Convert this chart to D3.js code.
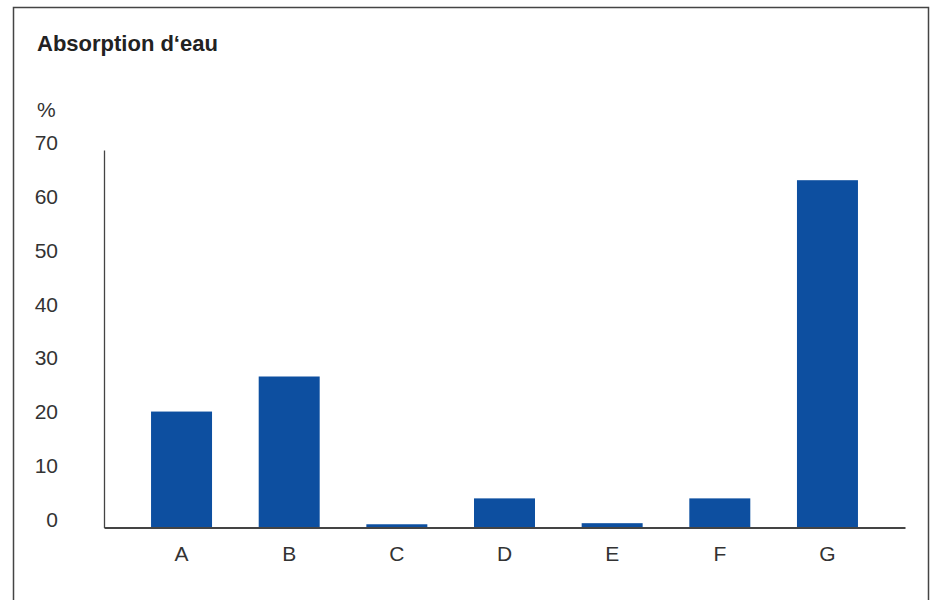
<!DOCTYPE html>
<html><head><meta charset="utf-8">
<script src="https://cdn.jsdelivr.net/npm/d3@7"></script>
<style>html,body{margin:0;padding:0;background:#fff;}</style>
</head><body>
<script>
const categories = ["A","B","C","D","E","F","G"];
const values = [21.5, 28.0, 0.6, 5.4, 0.8, 5.4, 64.4];
const yTicks = [0,10,20,30,40,50,60,70];
const title = "Absorption d‘eau";
const unit = "%";

const W = 933, H = 600;
const font = "'Liberation Sans Narrow', 'Arial Narrow', sans-serif";
const svg = d3.select("body").append("svg").attr("width", W).attr("height", H);

// frame
svg.append("path").attr("d", "M13.5,620 V7.5 H928.5 V620")
  .attr("fill","none").attr("stroke","#444").attr("stroke-width",1.5);

const x = d3.scaleBand().domain(categories).range([104, 905]).paddingInner(0.4335).paddingOuter(0.437);
const y = d3.scaleLinear().domain([0,70]).range([527.5,150]);

svg.append("text").attr("x",37).attr("y",51).text(title)
  .attr("font-family",font).attr("font-weight","bold").attr("font-size",22).attr("fill","#222");
svg.append("text").attr("x",37).attr("y",117).text(unit)
  .attr("font-family",font).attr("font-size",21).attr("fill","#333");

// bars
svg.append("g").selectAll("rect").data(values).join("rect")
  .attr("x",(d,i)=>x(categories[i])).attr("width",x.bandwidth())
  .attr("y",d=>y(d)).attr("height",d=>y(0)-y(d)).attr("fill","#0d4fa0");

// y axis
const ya = svg.append("g").attr("transform","translate(104,0)")
  .call(d3.axisLeft(y).tickValues(yTicks).tickSize(0).tickPadding(0));
ya.select(".domain").attr("stroke","#444").attr("stroke-width",1.3);
ya.selectAll("text").attr("x",-46).attr("font-family",font).attr("font-size",21).attr("fill","#333")
  .attr("transform","translate(0,-7.5)");

// x axis
const xa = svg.append("g").attr("transform",`translate(0,${y(0)})`)
  .call(d3.axisBottom(x).tickSize(0).tickPadding(19));
xa.select(".domain").attr("stroke","#444").attr("stroke-width",2.2);
xa.selectAll("text").attr("font-family",font).attr("font-size",21).attr("fill","#333");
</script>
</body></html>
